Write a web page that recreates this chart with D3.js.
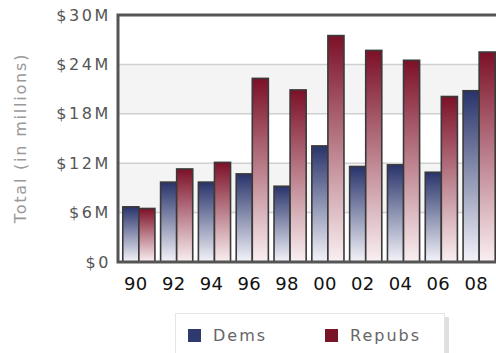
<!DOCTYPE html>
<html>
<head>
<meta charset="utf-8">
<script src="https://d3js.org/d3.v7.min.js"></script>
<style>
  body { margin: 0; background: #fff; }
  svg { display: block; font-family: "DejaVu Sans", Verdana, sans-serif; }
</style>
</head>
<body>
<svg id="chart" width="496" height="353"></svg>
<script>
const years = ["90", "92", "94", "96", "98", "00", "02", "04", "06", "08"];
const dems = [6.7, 9.7, 9.7, 10.7, 9.2, 14.1, 11.6, 11.8, 10.9, 20.8];
const repubs = [6.5, 11.3, 12.1, 22.3, 20.9, 27.5, 25.7, 24.5, 20.1, 25.5];
const series = ["Dems", "Repubs"];
const yTicks = [0, 6, 12, 18, 24, 30];

const svg = d3.select("#chart");
const pLeft = 118, pTop = 15, pBottom = 262, pRight = 499;

const x = d3.scaleBand().domain(years).range([pLeft + 1, pRight])
  .paddingInner(0.15).paddingOuter(0.1);
const xs = d3.scaleBand().domain(series).range([0, x.bandwidth()]);
const y = d3.scaleLinear().domain([0, 30]).range([pBottom, pTop]);

// gradients
const defs = svg.append("defs");
const grads = [["gDem", "#28336a", "#f4f4fa"], ["gRep", "#7c1027", "#faf0f2"]];
grads.forEach(g => {
  const lg = defs.append("linearGradient").attr("id", g[0])
    .attr("x1", 0).attr("y1", 0).attr("x2", 0).attr("y2", 1);
  lg.append("stop").attr("offset", "0%").attr("stop-color", g[1]);
  lg.append("stop").attr("offset", "100%").attr("stop-color", g[2]);
});

// alternating bands
svg.append("g").selectAll("rect")
  .data(d3.pairs(yTicks).filter((d, i) => i % 2 === 1))
  .join("rect")
  .attr("x", pLeft).attr("width", pRight - pLeft)
  .attr("y", d => y(d[1])).attr("height", d => y(d[0]) - y(d[1]))
  .attr("fill", "#f4f4f4");

// grid lines
svg.append("g").selectAll("line")
  .data(yTicks.slice(1, -1))
  .join("line")
  .attr("x1", pLeft).attr("x2", pRight)
  .attr("y1", d => y(d)).attr("y2", d => y(d))
  .attr("stroke", "#d0d0d0").attr("stroke-width", 1.5);

// bars
const rows = years.map((yr, i) => ({ yr, vals: [dems[i], repubs[i]] }));
svg.append("g").selectAll("g")
  .data(rows)
  .join("g")
  .attr("transform", d => `translate(${x(d.yr)},0)`)
  .selectAll("rect")
  .data(d => d.vals.map((v, j) => ({ s: series[j], v })))
  .join("rect")
  .attr("x", d => xs(d.s))
  .attr("width", xs.bandwidth())
  .attr("y", d => y(d.v))
  .attr("height", d => y(0) - y(d.v))
  .attr("fill", d => d.s === "Dems" ? "url(#gDem)" : "url(#gRep)")
  .attr("stroke", "#3a3a3a").attr("stroke-width", 1.6);

// frame
svg.append("path")
  .attr("d", `M${pRight},${pTop}H${pLeft}V${pBottom}H${pRight}`)
  .attr("fill", "none").attr("stroke", "#555").attr("stroke-width", 3);

// y axis labels
const yAxis = svg.append("g")
  .attr("transform", `translate(${pLeft - 7},0)`)
  .call(d3.axisLeft(y).tickValues(yTicks).tickSize(0)
    .tickFormat(d => d === 0 ? "$0" : "$" + d + "M"));
yAxis.select(".domain").remove();
yAxis.selectAll("text")
  .attr("font-family", "DejaVu Sans").attr("font-size", 16)
  .attr("letter-spacing", "2.6px").attr("fill", "#555").attr("x", 0);

// x axis labels
const xAxis = svg.append("g")
  .attr("transform", `translate(-3,${pBottom + 12})`)
  .call(d3.axisBottom(x).tickSize(0));
xAxis.select(".domain").remove();
xAxis.selectAll("text")
  .attr("font-family", "DejaVu Sans").attr("font-size", 18)
  .attr("letter-spacing", "0.3px").attr("fill", "#111");

// y title
svg.append("text")
  .attr("transform", "translate(26,138) rotate(-90)")
  .attr("text-anchor", "middle")
  .attr("font-size", 16).attr("letter-spacing", "1.8px")
  .attr("fill", "#999")
  .text("Total (in millions)");

// legend
const lg = svg.append("g");
lg.append("rect").attr("x", 179).attr("y", 317).attr("width", 270).attr("height", 50)
  .attr("fill", "#ccc").attr("opacity", 0.6);
lg.append("rect").attr("x", 175.5).attr("y", 313.5).attr("width", 269).attr("height", 50)
  .attr("fill", "#fff").attr("stroke", "#e4e4e4");
const items = lg.selectAll("g.item")
  .data(series)
  .join("g")
  .attr("class", "item")
  .attr("transform", (d, i) => `translate(${i ? 325 : 188},329)`);
items.append("rect").attr("width", 13).attr("height", 13)
  .attr("fill", d => d === "Dems" ? "#2e3a6e" : "#7a1428");
items.append("text").attr("x", 25).attr("y", 12)
  .attr("font-size", 16).attr("letter-spacing", "2px").attr("fill", "#666")
  .text(d => d);
</script>
</body>
</html>
